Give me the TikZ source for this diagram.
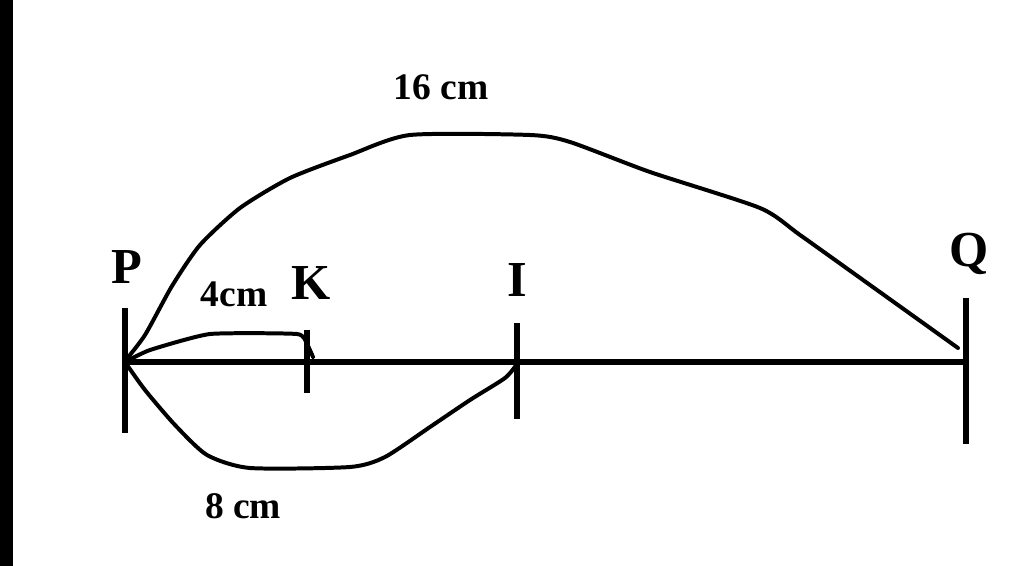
\documentclass[tikz,border=0pt]{standalone}
\usepackage{fontspec}
\setmainfont{Liberation Serif}
\usetikzlibrary{positioning}

\begin{document}
\begin{tikzpicture}[
  x=0.03cm, y=-0.03cm,
  seg/.style={line width=4.3pt},
  tick/.style={line width=4.3pt},
  curve/.style={line width=3.4pt, line join=round, line cap=round},
  ptlabel/.style={font=\fontsize{43}{46}\selectfont\bfseries, inner sep=0pt},
  lenlabel/.style={font=\fontsize{32}{36}\selectfont\bfseries, inner sep=0pt}
]
\useasboundingbox (0,0) rectangle (1024,566);
\fill[black] (0,0) rectangle (13,566);

% ---- points on the line ----
\coordinate (P) at (125,362);
\coordinate (K) at (307,362);
\coordinate (I) at (517,362);
\coordinate (Q) at (966,362);

% main segment
\draw[seg] (P) -- (Q);

% ticks
\draw[tick] (125,308) -- (125,433);
\draw[tick] (307,330) -- (307,393);
\draw[tick] (517,323) -- (517,419);
\draw[tick] (966,298) -- (966,444);

% point labels
\node[ptlabel] (Plab) at (127,267) {P};
\node[ptlabel] (Klab) at (311,283) {K};
\node[ptlabel] (Ilab) at (517,280) {I};
\node[ptlabel] (Qlab) at (969,254) {Q};

% ---- distance arcs ----
\draw[curve] plot[smooth, tension=0.4] coordinates {(125,361) (145,335) (172,286)
  (200,245) (240,208) (290,178) (350,155) (410,135) (530,135) (570,142)
  (650,172) (760,208) (800,235) (870,285) (958,348)};
\draw[curve] plot[smooth, tension=0.3] coordinates {(125,362) (150,350) (210,334)
  (297,334) (307,344) (313,357)};
\draw[curve] plot[smooth, tension=0.4] coordinates {(125,362) (145,390) (175,425)
  (207,455) (250,468) (350,467) (385,457) (430,427) (470,400) (505,378) (517,364)};

% distance labels
\node[lenlabel] (l16) at (441,87) {16 cm};
\node[lenlabel] (l4) at (234,294) {4cm};
\node[lenlabel] (l8) at (243,506) {8 cm};
\end{tikzpicture}
\end{document}
